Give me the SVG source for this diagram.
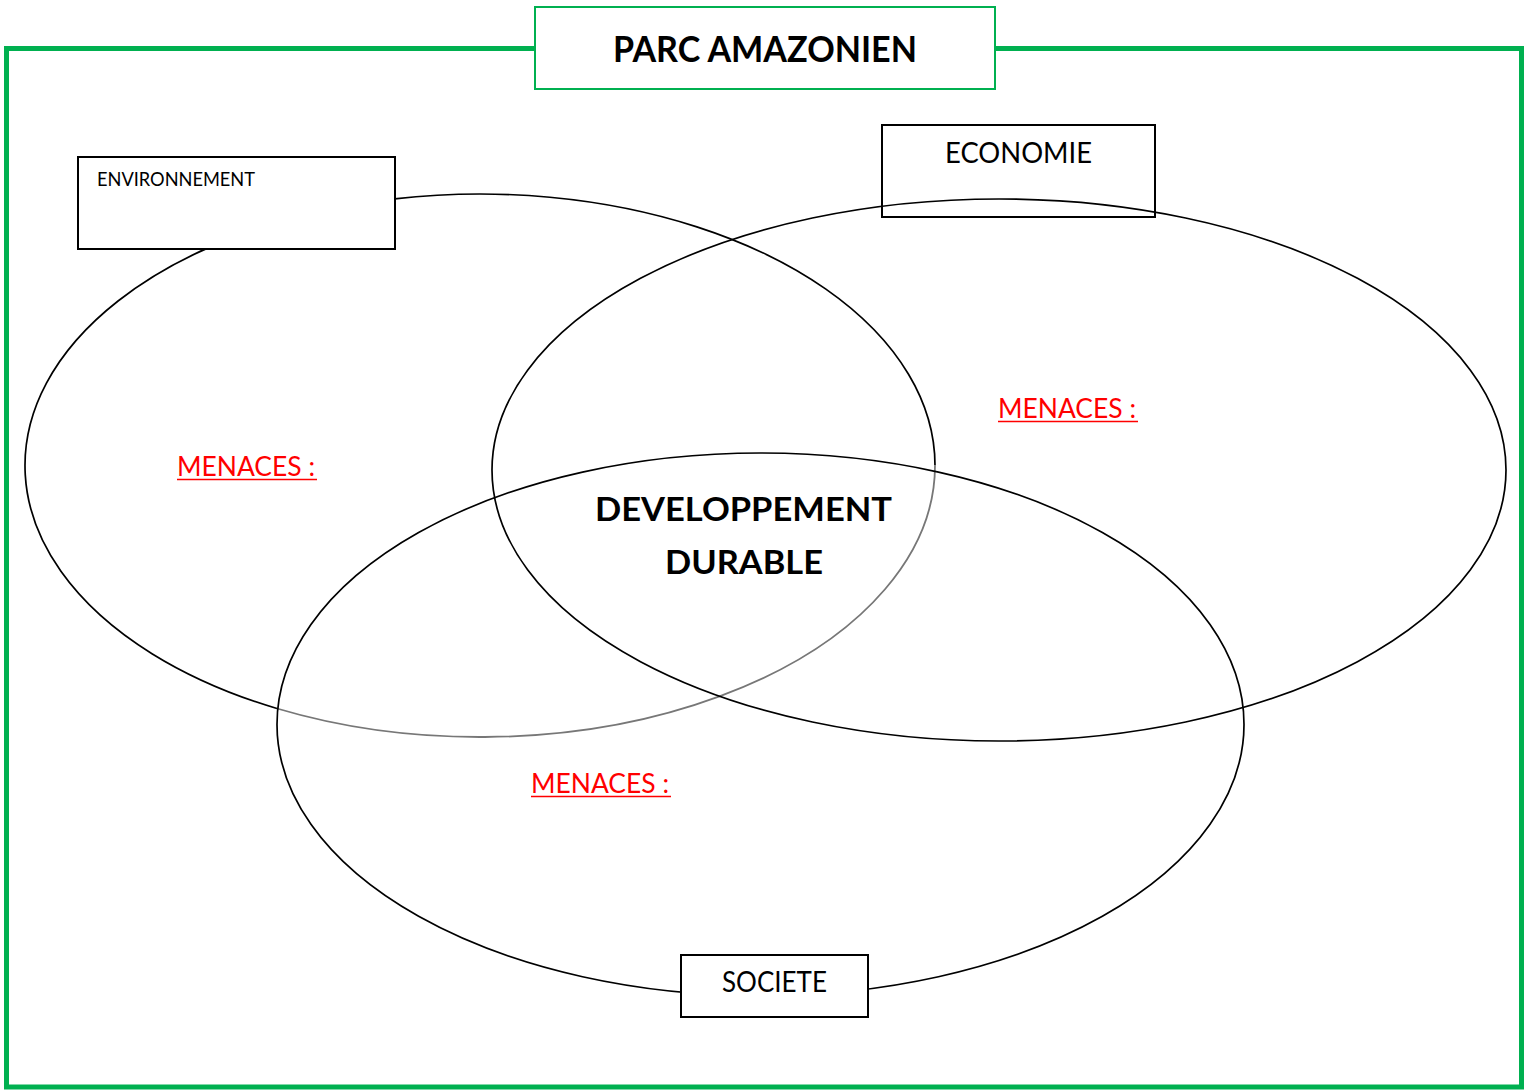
<svg xmlns="http://www.w3.org/2000/svg" width="1526" height="1090" viewBox="0 0 1526 1090">
<style>
.ell{fill:none;stroke:#000;stroke-width:1.7}
.box{fill:#fff;stroke:#000;stroke-width:2}
.t{font-family:Lato,"Open Sans","DejaVu Sans",sans-serif;fill:#000}
.b{font-weight:bold}
.men{font-family:Lato,"Open Sans","DejaVu Sans",sans-serif;fill:#ff0000;font-size:27px}
</style>
<rect width="1526" height="1090" fill="#fff"/>
<rect x="6.5" y="48.5" width="1515" height="1038.5" fill="none" stroke="#00b050" stroke-width="5"/>
<g id="title">
<rect x="535" y="7" width="460" height="82" fill="#fff" stroke="#00b050" stroke-width="2"/>
<text class="t b" x="765" y="62" font-size="37" text-anchor="middle" textLength="304" lengthAdjust="spacingAndGlyphs">PARC AMAZONIEN</text>
</g>
<g id="connectors">
<path class="ell" d="M277,708.5 A455,271.5 0 1 1 935,465.5"/>
<path d="M935,465.5 A455,271.5 0 0 1 277,708.5" fill="none" stroke="#777" stroke-width="1.8"/>
<ellipse class="ell" cx="999" cy="470" rx="507" ry="271"/>
<ellipse class="ell" cx="760.5" cy="724.4" rx="483.5" ry="271.4"/>
</g>
<g id="environnement">
<rect class="box" x="78" y="157" width="317" height="92"/>
<text class="t" x="97" y="186" font-size="19.5" textLength="158" lengthAdjust="spacingAndGlyphs">ENVIRONNEMENT</text>
</g>
<g id="economie">
<rect x="882" y="125" width="273" height="92" fill="none" stroke="#000" stroke-width="2"/>
<text class="t" x="945" y="163" font-size="29" textLength="147" lengthAdjust="spacingAndGlyphs">ECONOMIE</text>
</g>
<g id="societe">
<rect class="box" x="681" y="955" width="187" height="62"/>
<text class="t" x="722" y="992" font-size="28" textLength="105" lengthAdjust="spacingAndGlyphs">SOCIETE</text>
</g>
<g id="developpement">
<text class="t b" x="595" y="521" font-size="33" textLength="297" lengthAdjust="spacingAndGlyphs">DEVELOPPEMENT</text>
<text class="t b" x="665" y="574" font-size="33" textLength="158" lengthAdjust="spacingAndGlyphs">DURABLE</text>
</g>
<g id="menaces">
<text class="men" x="177" y="476" textLength="138" lengthAdjust="spacingAndGlyphs">MENACES :</text>
<line x1="177" y1="479.5" x2="317" y2="479.5" stroke="#ff0000" stroke-width="1.6"/>
<text class="men" x="998" y="418" textLength="138" lengthAdjust="spacingAndGlyphs">MENACES :</text>
<line x1="998" y1="421.5" x2="1138" y2="421.5" stroke="#ff0000" stroke-width="1.6"/>
<text class="men" x="531" y="793" textLength="138" lengthAdjust="spacingAndGlyphs">MENACES :</text>
<line x1="531" y1="796.5" x2="671" y2="796.5" stroke="#ff0000" stroke-width="1.6"/>
</g>
</svg>
